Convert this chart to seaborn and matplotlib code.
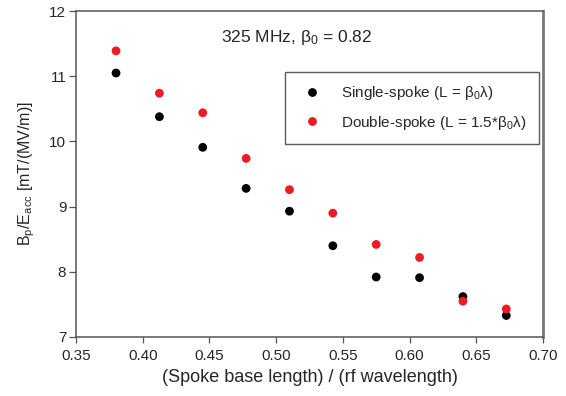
import pandas as pd
import seaborn as sns
import matplotlib.pyplot as plt

ratio = [0.38, 0.4125, 0.445, 0.4775, 0.51, 0.5425, 0.575, 0.6075, 0.64, 0.6725]
single_spoke = [11.05, 10.38, 9.91, 9.28, 8.93, 8.40, 7.92, 7.91, 7.62, 7.33]
double_spoke = [11.39, 10.74, 10.44, 9.74, 9.26, 8.90, 8.42, 8.22, 7.55, 7.43]

single_label = r"Single-spoke (L = $\mathregular{\beta_0\lambda}$)"
double_label = r"Double-spoke (L = 1.5*$\mathregular{\beta_0\lambda}$)"

data = pd.concat(
    [
        pd.DataFrame({"x": ratio, "y": single_spoke, "Series": single_label}),
        pd.DataFrame({"x": ratio, "y": double_spoke, "Series": double_label}),
    ]
)

sns.set_style("ticks")
plt.rcParams["font.family"] = ["Liberation Sans", "DejaVu Sans"]
plt.rcParams["mathtext.fontset"] = "custom"
plt.rcParams["mathtext.rm"] = "Liberation Sans"
plt.rcParams["mathtext.it"] = "Liberation Sans"

fig = plt.figure(figsize=(5.66, 3.96), dpi=100)
ax = fig.add_axes([0.1343, 0.149, 0.825, 0.823])

sns.scatterplot(
    data=data,
    x="x",
    y="y",
    hue="Series",
    palette=["black", "#ec1c24"],
    s=40,
    edgecolor="none",
    ax=ax,
)

ax.set_xlim(0.35, 0.70)
ax.set_ylim(7, 12)
ax.set_xticks([0.35, 0.40, 0.45, 0.50, 0.55, 0.60, 0.65, 0.70])
ax.set_xticklabels(["0.35", "0.40", "0.45", "0.50", "0.55", "0.60", "0.65", "0.70"])
ax.set_yticks([7, 8, 9, 10, 11, 12])
ax.tick_params(labelsize=11, direction="out", width=0.9, color="#555555")
ax.tick_params(axis="x", length=4, pad=5)
ax.tick_params(axis="y", length=5, pad=2)
for side in ["top", "bottom", "left"]:
    ax.spines[side].set_linewidth(1.1)
    ax.spines[side].set_color("#555555")
ax.spines["right"].set_linewidth(2.0)
ax.spines["right"].set_color("#777777")

ax.set_xlabel("(Spoke base length) / (rf wavelength)", fontsize=13, labelpad=4)
ax.set_ylabel(r"$\mathregular{B_p/E_{acc}}$ [mT/(MV/m)]", fontsize=11.5, labelpad=9)

ax.text(0.515, 11.59, r"325 MHz, $\mathregular{\beta_0}$ = 0.82", fontsize=12.5,
        ha="center", va="center")

leg = ax.legend(
    title=None,
    loc="upper left",
    bbox_to_anchor=(0.447, 0.813),
    frameon=True,
    fancybox=False,
    edgecolor="#333333",
    fontsize=11,
    handletextpad=0.9,
    borderpad=0.8,
    labelspacing=0.75,
    borderaxespad=0,
)
leg.get_frame().set_linewidth(1.0)

fig.savefig("out.png", dpi=100)
